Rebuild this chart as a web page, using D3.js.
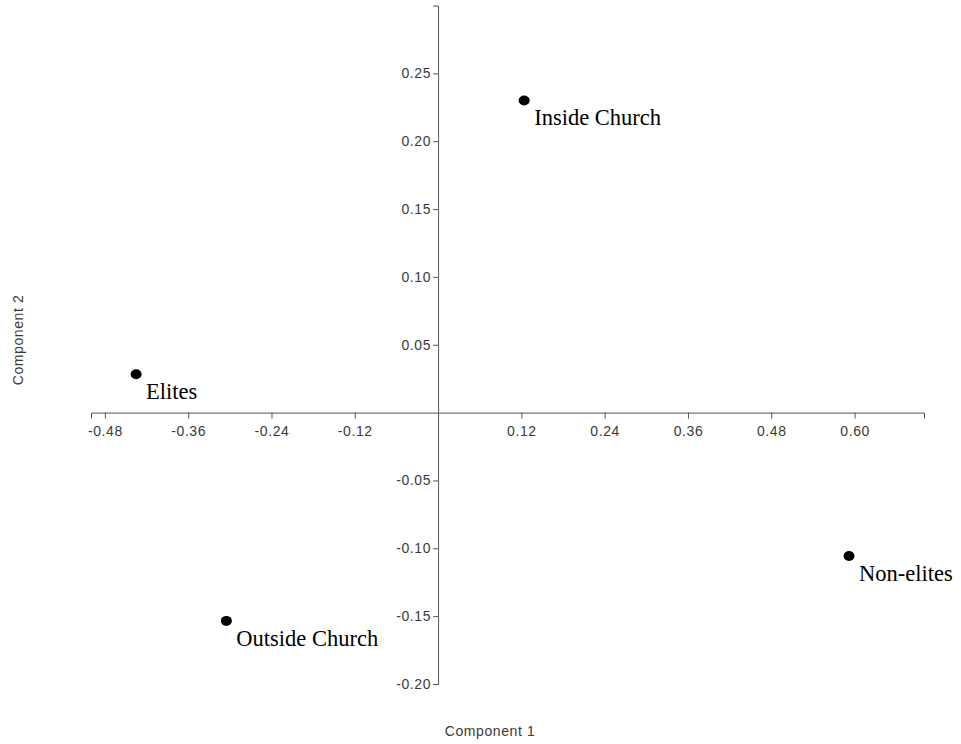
<!DOCTYPE html>
<html><head><meta charset="utf-8">
<script src="https://cdn.jsdelivr.net/npm/d3@7"></script>
<style>body{margin:0;background:#fff}</style>
</head><body>
<svg id="c" width="961" height="744"></svg>
<script>
const labels = ["Elites", "Inside Church", "Outside Church", "Non-elites"];
const comp1 = [-0.435, 0.124, -0.305, 0.592];
const comp2 = [0.0283, 0.230, -0.1535, -0.1057];
const xTicks = [-0.48, -0.36, -0.24, -0.12, 0.12, 0.24, 0.36, 0.48, 0.60];
const yTicks = [0.25, 0.20, 0.15, 0.10, 0.05, -0.05, -0.10, -0.15, -0.20];
const xDomain = [-0.5, 0.7];
const yDomain = [-0.2, 0.3];

const svg = d3.select("#c");
const x = d3.scaleLinear().domain(xDomain).range([91, 924]);
const y = d3.scaleLinear().domain(yDomain).range([684, 5.5]);
const fmt = v => (v < 0 ? "-" : "") + Math.abs(v).toFixed(2);

const axisColor = "#555";
const textColor = "#3a3a3a";

const gx = svg.append("g").attr("transform", `translate(0,${y(0)})`)
  .call(d3.axisBottom(x).tickValues(xTicks).tickFormat(fmt).tickSizeOuter(0).tickSize(6).tickPadding(7));
const gy = svg.append("g").attr("transform", `translate(${x(0)},0)`)
  .call(d3.axisLeft(y).tickValues(yTicks).tickFormat(fmt).tickSizeOuter(0).tickSize(5).tickPadding(2));
[gx, gy].forEach(g => {
  g.select(".domain").attr("stroke", axisColor).attr("stroke-width", 1);
  g.selectAll(".tick line").attr("stroke", axisColor);
  g.selectAll(".tick text").attr("fill", textColor)
    .style("font-family", "Liberation Sans, Arial, sans-serif")
    .style("font-size", "14px").style("letter-spacing", "0.6px");
});

const pts = labels.map((l, i) => ({l, cx: comp1[i], cy: comp2[i]}));
svg.append("g").selectAll("ellipse").data(pts).join("ellipse")
  .attr("cx", d => x(d.cx)).attr("cy", d => y(d.cy))
  .attr("rx", 5.5).attr("ry", 5).attr("fill", "#000");
svg.append("g").selectAll("text").data(pts).join("text")
  .attr("x", d => x(d.cx) + 10).attr("y", d => y(d.cy) + 25)
  .style("font-family", "Liberation Serif, Times New Roman, serif")
  .style("font-size", "22.5px").attr("fill", "#000")
  .text(d => d.l);

svg.append("text").attr("x", 490).attr("y", 736).attr("text-anchor", "middle")
  .style("font-family", "Liberation Sans, Arial, sans-serif").style("font-size", "14px")
  .style("letter-spacing", "0.6px").attr("fill", textColor).text("Component 1");
svg.append("text").attr("transform", "translate(23,340) rotate(-90)").attr("text-anchor", "middle")
  .style("font-family", "Liberation Sans, Arial, sans-serif").style("font-size", "14px")
  .style("letter-spacing", "0.6px").attr("fill", textColor).text("Component 2");
</script>
</body></html>
